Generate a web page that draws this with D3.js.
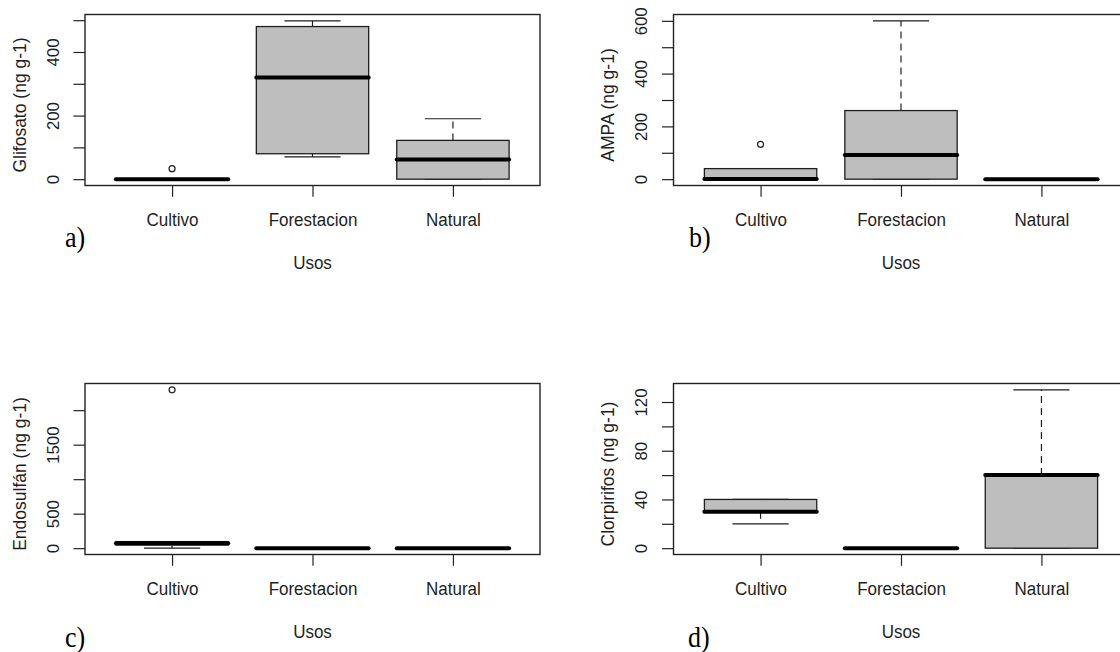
<!DOCTYPE html>
<html>
<head>
<meta charset="utf-8">
<script src="https://cdn.jsdelivr.net/npm/d3@7"></script>
<style>
body { margin: 0; background: #fff; }
</style>
</head>
<body>
<svg id="chart" width="1120" height="652"></svg>
<script>
var usos = ["Cultivo", "Forestacion", "Natural"];

// box stats per uso: [lower whisker, Q1, median, Q3, upper whisker]
var glifosato = [[0, 0, 0, 0, 0], [70, 80, 320, 480, 498], [0, 0, 62, 122, 190]];
var glifosatoOut = [[33], [], []];
var ampa = [[0, 0, 1, 40, 40], [0, 0, 92, 260, 600], [0, 0, 0, 0, 0]];
var ampaOut = [[132], [], []];
var endosulfan = [[0, 45, 70, 95, 95], [0, 0, 0, 0, 0], [0, 0, 0, 0, 0]];
var endosulfanOut = [[2295], [], []];
var clorpirifos = [[20, 30, 30, 40, 40], [0, 0, 0, 0, 0], [0, 0, 60, 60, 130]];
var clorpirifosOut = [[], [], []];

var glifosatoTicks = [0, 100, 200, 300, 400, 500];
var glifosatoLabels = [0, 200, 400];
var ampaTicks = [0, 100, 200, 300, 400, 500, 600];
var ampaLabels = [0, 200, 400, 600];
var endosulfanTicks = [0, 500, 1000, 1500, 2000];
var endosulfanLabels = [0, 500, 1500];
var clorpirifosTicks = [0, 20, 40, 60, 80, 100, 120];
var clorpirifosLabels = [0, 40, 80, 120];

var svg = d3.select("#chart");
var plotW = 455, plotH = 171;
var sans = "'Liberation Sans', Arial, sans-serif";
var ink = "#1e1e1e";

var panels = [
    {stats: glifosato, out: glifosatoOut, ticks: glifosatoTicks, labels: glifosatoLabels,
     title: "Glifosato (ng g-1)", letter: "a)", left: 85, top: 14.5, lx: 65, ly: 247},
    {stats: ampa, out: ampaOut, ticks: ampaTicks, labels: ampaLabels,
     title: "AMPA (ng g-1)", letter: "b)", left: 673.5, top: 14.5, lx: 689, ly: 247},
    {stats: endosulfan, out: endosulfanOut, ticks: endosulfanTicks, labels: endosulfanLabels,
     title: "Endosulfán (ng g-1)", letter: "c)", left: 85, top: 383.5, lx: 65, ly: 647},
    {stats: clorpirifos, out: clorpirifosOut, ticks: clorpirifosTicks, labels: clorpirifosLabels,
     title: "Clorpirifos (ng g-1)", letter: "d)", left: 673.5, top: 383.5, lx: 688, ly: 647}
];

var drawPanel = function(p){
    var g = svg.append("g");
    var all = p.stats.flat().concat(p.out.flat());
    var lo = d3.min(all), hi = d3.max(all), pad = (hi - lo) * 0.04;

    var y = d3.scaleLinear().domain([lo - pad, hi + pad]).range([p.top + plotH, p.top]);
    var x = d3.scaleLinear().domain([0.38, 3.62]).range([p.left, p.left + plotW]);
    var bw = x(1.8) - x(1);

    var boxes = g.selectAll(".box")
        .data(p.stats)
        .enter()
        .append("g")
        .attr("class", "box");

    // whiskers (dashed)
    boxes.append("line")
        .attr("x1", function(d, i){ return x(i + 1); })
        .attr("x2", function(d, i){ return x(i + 1); })
        .attr("y1", function(d){ return y(d[1]); })
        .attr("y2", function(d){ return y(d[0]); })
        .attr("stroke", ink).attr("stroke-width", 1.2).attr("stroke-dasharray", "7,5");
    boxes.append("line")
        .attr("x1", function(d, i){ return x(i + 1); })
        .attr("x2", function(d, i){ return x(i + 1); })
        .attr("y1", function(d){ return y(d[3]); })
        .attr("y2", function(d){ return y(d[4]); })
        .attr("stroke", ink).attr("stroke-width", 1.2).attr("stroke-dasharray", "7,5");

    // staples
    [0, 4].forEach(function(k){
        boxes.append("line")
            .attr("x1", function(d, i){ return x(i + 1) - bw / 4; })
            .attr("x2", function(d, i){ return x(i + 1) + bw / 4; })
            .attr("y1", function(d){ return y(d[k]); })
            .attr("y2", function(d){ return y(d[k]); })
            .attr("stroke", ink).attr("stroke-width", 1.2);
    });

    boxes.append("rect")
        .attr("x", function(d, i){ return x(i + 1) - bw / 2; })
        .attr("y", function(d){ return y(d[3]); })
        .attr("width", bw)
        .attr("height", function(d){ return y(d[1]) - y(d[3]); })
        .attr("fill", "#bebebe")
        .attr("stroke", ink).attr("stroke-width", 1.3);

    // median
    boxes.append("line")
        .attr("x1", function(d, i){ return x(i + 1) - bw / 2; })
        .attr("x2", function(d, i){ return x(i + 1) + bw / 2; })
        .attr("y1", function(d){ return y(d[2]); })
        .attr("y2", function(d){ return y(d[2]); })
        .attr("stroke", "#000").attr("stroke-width", 4).attr("stroke-linecap", "round");

    // outliers
    p.out.forEach(function(vals, i){
        g.selectAll(null)
            .data(vals)
            .enter()
            .append("circle")
            .attr("cx", x(i + 1))
            .attr("cy", function(d){ return y(d); })
            .attr("r", 3)
            .attr("fill", "none")
            .attr("stroke", ink).attr("stroke-width", 1.2);
    });

    // frame
    g.append("rect")
        .attr("x", p.left).attr("y", p.top)
        .attr("width", plotW).attr("height", plotH)
        .attr("fill", "none").attr("stroke", "#222").attr("stroke-width", 1.4);

    // y axis
    var ya = g.append("g")
        .attr("transform", "translate(" + p.left + ",0)")
        .call(d3.axisLeft(y).tickValues(p.ticks).tickSize(11.5)
            .tickFormat(function(d){ return p.labels.indexOf(d) >= 0 ? d : ""; }));
    ya.select(".domain").remove();
    ya.selectAll(".tick line").attr("stroke", "#222").attr("stroke-width", 1.2);
    ya.selectAll(".tick text")
        .attr("transform", "rotate(-90) scale(1.05,1)")
        .attr("x", 0).attr("y", -26.5).attr("dy", 0)
        .attr("text-anchor", "middle")
        .attr("fill", ink)
        .style("font", "16px " + sans);

    // x axis
    var xa = g.append("g")
        .attr("transform", "translate(0," + (p.top + plotH) + ")")
        .call(d3.axisBottom(x).tickValues([1, 2, 3]).tickSize(11.3)
            .tickFormat(function(d){ return usos[d - 1]; }));
    xa.select(".domain").remove();
    xa.selectAll(".tick line").attr("stroke", "#222").attr("stroke-width", 1.2);
    xa.selectAll(".tick text")
        .attr("y", 0).attr("dy", 0)
        .attr("transform", "translate(0,40.5) scale(1,1.13)")
        .attr("fill", ink)
        .style("font", "17px " + sans);

    // titles
    g.append("text")
        .attr("transform", "translate(" + (p.left - 59.5) + "," + (p.top + plotH / 2 + 5) + ") rotate(-90)")
        .attr("text-anchor", "middle")
        .attr("fill", ink)
        .style("font", "17.5px " + sans)
        .text(p.title);

    g.append("text")
        .attr("transform", "translate(" + (p.left + plotW / 2) + "," + (p.top + plotH + 83) + ") scale(1,1.13)")
        .attr("text-anchor", "middle")
        .attr("fill", ink)
        .style("font", "17px " + sans)
        .text("Usos");

    g.append("text")
        .attr("transform", "translate(" + p.lx + "," + p.ly + ") scale(1,1.12)")
        .attr("fill", "#000")
        .style("font", "26px 'Liberation Serif', 'DejaVu Serif', serif")
        .text(p.letter);
};

panels.forEach(drawPanel);
</script>
</body>
</html>
